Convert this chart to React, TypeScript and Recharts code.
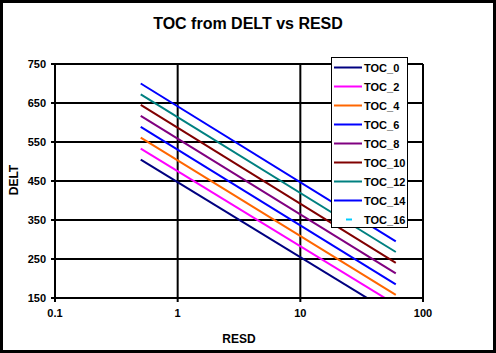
import React from 'react';
import { LineChart, Line, XAxis, YAxis, CartesianGrid, Customized } from 'recharts';

const seriesNames = ['TOC_0', 'TOC_2', 'TOC_4', 'TOC_6', 'TOC_8', 'TOC_10', 'TOC_12', 'TOC_14', 'TOC_16'];
const seriesColors = ['#000080', '#FF00FF', '#FF6600', '#0000FF', '#800080', '#800000', '#008080', '#0000FF', '#00CCFF'];
const resdValues = [0.5, 60];
const startDelt = [505, 533, 561, 589, 617, 645, 672, 700];
const endDelt = [105, 133, 158, 185, 213, 240, 268, 295];
const xTicks = [0.1, 1, 10, 100];
const yTicks = [150, 250, 350, 450, 550, 650, 750];

const FONT = '"Liberation Sans", Arial, sans-serif';

const seriesData = seriesNames.map((name, i) =>
  i < startDelt.length
    ? [
        { x: resdValues[0], y: startDelt[i] },
        { x: resdValues[1], y: endDelt[i] },
      ]
    : []
);

const LegendBox = () => (
  <div
    style={{
      position: 'absolute',
      left: 331,
      top: 57,
      width: 77,
      height: 171,
      background: '#fff',
      border: '1px solid #000',
      boxSizing: 'border-box',
      paddingTop: 0,
    }}
  >
    {seriesNames.map((n, i) => (
      <div key={n} style={{ height: 19, display: 'flex', alignItems: 'center' }}>
        <svg width={32} height={19} style={{ display: 'block' }}>
          {i < startDelt.length ? (
            <line x1={2} y1={9.5} x2={30} y2={9.5} stroke={seriesColors[i]} strokeWidth={2} />
          ) : (
            <line x1={14} y1={9.5} x2={20} y2={9.5} stroke={seriesColors[i]} strokeWidth={2} />
          )}
        </svg>
        <span style={{ font: `bold 11px ${FONT}`, color: '#000' }}>{n}</span>
      </div>
    ))}
  </div>
);

const Texts = () => (
  <g>
    <text x={248} y={29} textAnchor="middle" style={{ font: `bold 16px ${FONT}` }} fill="#000">
      TOC from DELT vs RESD
    </text>
    <text x={239} y={343} textAnchor="middle" style={{ font: `bold 12px ${FONT}` }} fill="#000">
      RESD
    </text>
    <text
      x={18}
      y={180}
      textAnchor="middle"
      transform="rotate(-90 18 180)"
      style={{ font: `bold 12px ${FONT}` }}
      fill="#000"
    >
      DELT
    </text>
  </g>
);

export default function App() {
  return (
    <div
      style={{
        position: 'absolute',
        left: 0,
        top: 0,
        width: 496,
        height: 353,
        background: '#fff',
      }}
    >
      <LineChart width={496} height={353} margin={{ top: 64, right: 73, bottom: 25, left: 0 }}>
        <CartesianGrid stroke="#000" strokeWidth={2} />
        <XAxis
          type="number"
          dataKey="x"
          scale="log"
          domain={[0.1, 100]}
          ticks={xTicks}
          interval={0}
          allowDataOverflow
          height={30}
          stroke="#000"
          strokeWidth={2}
          tickSize={4}
          tickMargin={7}
          tick={{ fill: '#000', fontSize: 11, fontWeight: 'bold', fontFamily: FONT }}
          tickFormatter={(v: number) => String(v)}
        />
        <YAxis
          type="number"
          domain={[150, 750]}
          ticks={yTicks}
          interval={0}
          allowDataOverflow
          width={55}
          stroke="#000"
          strokeWidth={2}
          tickSize={4}
          tickMargin={5}
          tick={{ fill: '#000', fontSize: 11, fontWeight: 'bold', fontFamily: FONT }}
        />
        {seriesNames.map((n, i) => (
          <Line
            key={n}
            data={seriesData[i]}
            dataKey="y"
            name={n}
            stroke={seriesColors[i]}
            strokeWidth={2}
            dot={false}
            isAnimationActive={false}
          />
        ))}
        <Customized component={Texts} />
      </LineChart>
      <LegendBox />
      <div
        style={{
          position: 'absolute',
          left: 0,
          top: 0,
          width: 496,
          height: 353,
          border: '3px solid #000',
          boxSizing: 'border-box',
          pointerEvents: 'none',
        }}
      />
    </div>
  );
}
